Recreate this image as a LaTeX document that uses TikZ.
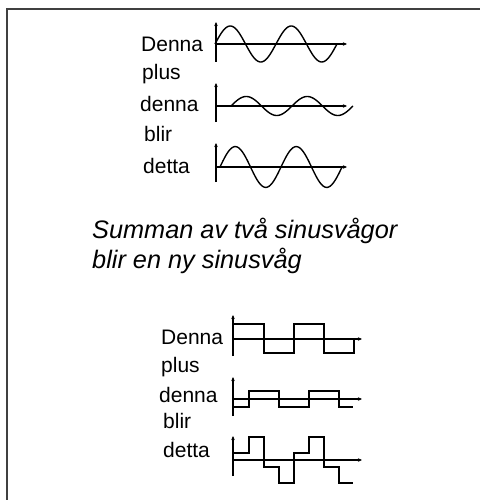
\documentclass[tikz,border=0pt]{standalone}
\usepackage{fontspec}
\setmainfont{Liberation Sans}
\usetikzlibrary{arrows.meta}
\begin{document}
\begin{tikzpicture}[x=1pt,y=-1pt,
  lbl/.style={anchor=base west,inner sep=0pt,font=\fontsize{21}{25}\selectfont},
  captxt/.style={anchor=base west,inner sep=0pt,font=\fontsize{25.3}{30}\selectfont\itshape},
  axis/.style={line width=1.4pt,-{Stealth[length=4pt,width=3.5pt]}},
  wave/.style={line width=1.4pt,line join=miter}]
\useasboundingbox (0,0) rectangle (480,500);
% frame
\draw[line width=2pt,black!75] (7,500) -- (7,9) -- (480,9);
% top labels
\node[lbl] (t1) at (141,52) {Denna};
\node[lbl] (t2) at (142,80) {plus};
\node[lbl] (t3) at (140,112) {denna};
\node[lbl] (t4) at (144,141) {blir};
\node[lbl] (t5) at (143,173) {detta};
% sine 1
\draw[axis] (216,62) -- (216,22);
\draw[axis] (216,44) -- (347,44);
\draw[wave] plot[domain=0:122,samples=120,smooth] ({215+\x},{44-18*sin(\x/61*360)});
% sine 2
\draw[axis] (216,122) -- (216,83);
\draw[axis] (216,106) -- (347,106);
\draw[wave] plot[domain=0:122,samples=120,smooth] ({231+\x},{106-9.5*sin(\x/61*360)});
% sine 3
\draw[axis] (216,182) -- (216,143);
\draw[axis] (216,167) -- (347,167);
\draw[wave] plot[domain=0:122,samples=120,smooth] ({220+\x},{167-20.4*sin(\x/61*360)});
% caption
\node[captxt] (c1) at (92,238) {Summan av två sinusvågor};
\node[captxt] (c2) at (92,268) {blir en ny sinusvåg};
% bottom labels
\node[lbl] (b1) at (161,344) {Denna};
\node[lbl] (b2) at (161,372) {plus};
\node[lbl] (b3) at (159,402) {denna};
\node[lbl] (b4) at (163,428) {blir};
\node[lbl] (b5) at (163,457) {detta};
% square A
\draw[axis] (233,356) -- (233,315);
\draw[axis] (233,339) -- (362,339);
\draw[wave] (233,324) -- (264,324) -- (264,353) -- (294,353) -- (294,324) -- (324,324) -- (324,353) -- (354,353) -- (354,339);
% square B
\draw[axis] (233,416) -- (233,377);
\draw[axis] (233,399) -- (362,399);
\draw[wave] (233,407) -- (249,407) -- (249,391) -- (279,391) -- (279,407) -- (309,407) -- (309,391) -- (339,391) -- (339,407) -- (353,407);
% square C
\draw[axis] (233,476) -- (233,436);
\draw[axis] (233,460) -- (362,460);
\draw[wave] (233,453) -- (249,453) -- (249,437) -- (264,437) -- (264,467) -- (279,467) -- (279,483) -- (294,483) -- (294,453) -- (309,453) -- (309,437) -- (324,437) -- (324,467) -- (339,467) -- (339,483) -- (353,483);
\end{tikzpicture}
\end{document}
